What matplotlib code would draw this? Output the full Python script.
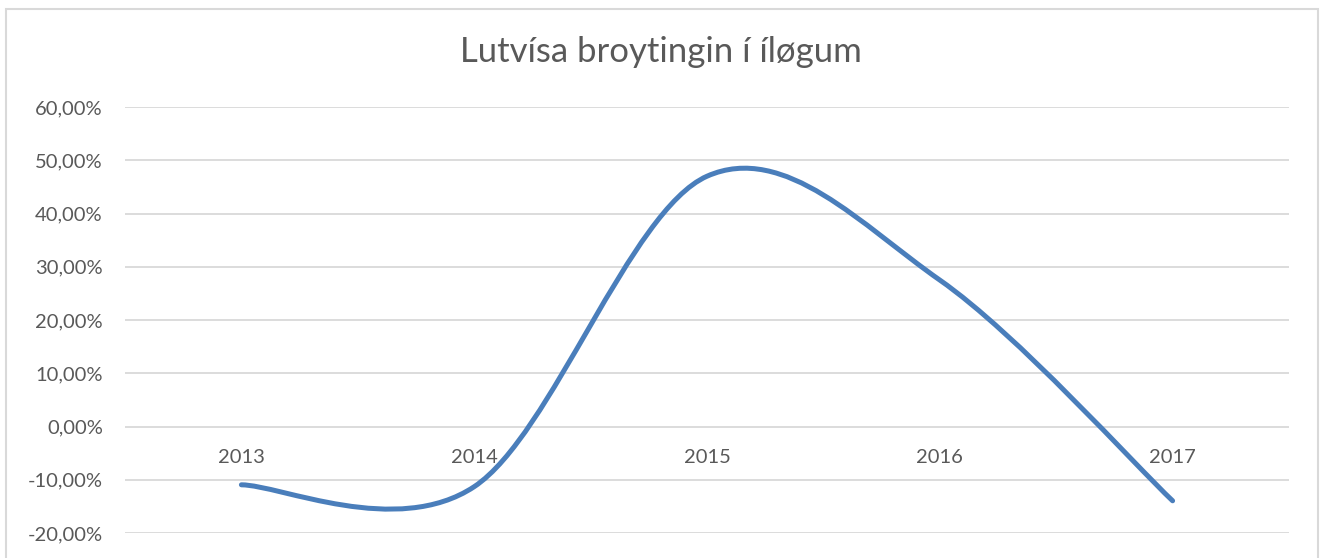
import numpy as np
import matplotlib.pyplot as plt
from matplotlib.path import Path
from matplotlib.patches import PathPatch, Rectangle

# Gögn
years  = ['2013', '2014', '2015', '2016', '2017']
change = [-10.95, -11.3, 47.0, 27.5, -13.95]   # %
yticks = [-20, -10, 0, 10, 20, 30, 40, 50, 60]

plt.rcParams['font.family'] = ['Lato', 'DejaVu Sans']

fig = plt.figure(figsize=(13.21, 5.58), dpi=100)
ax  = fig.add_axes([125/1321, 1 - 533/558, (1289-125)/1321, (533-107)/558])

# ramma um alla myndina
fig.patches.append(Rectangle((6/1321, -0.05), (1318-6)/1321, 1.05 - 9/558,
                             transform=fig.transFigure, fill=False,
                             edgecolor='#d9d9d9', linewidth=1.5))

# Excel-líkur sléttur ferill (Catmull-Rom -> Bezier)
x = np.arange(len(change), dtype=float)
y = np.array(change, dtype=float)
verts = [(x[0], y[0])]
codes = [Path.MOVETO]
for i in range(len(x) - 1):
    p0 = i - 1 if i > 0 else i
    p3 = i + 2 if i + 2 < len(x) else i + 1
    c1 = (x[i] + (x[i+1] - x[p0]) / 6, y[i] + (y[i+1] - y[p0]) / 6)
    c2 = (x[i+1] - (x[p3] - x[i]) / 6, y[i+1] - (y[p3] - y[i]) / 6)
    verts += [c1, c2, (x[i+1], y[i+1])]
    codes += [Path.CURVE4] * 3
ax.add_patch(PathPatch(Path(verts, codes), facecolor='none', edgecolor='#4a7ebb',
                       linewidth=3.6, capstyle='round', joinstyle='round', zorder=3))

ax.set_xlim(-0.5, len(years) - 0.5)
ax.set_ylim(-20, 60)
ax.set_yticks(yticks)
ax.set_yticklabels([f'{v:.2f}%'.replace('.', ',') for v in yticks],
                   fontsize=14.5, color='#595959')
ax.tick_params(axis='y', length=0, pad=16)
ax.set_xticks([])
ax.yaxis.grid(True, color='#d9d9d9', linewidth=1.3)
ax.set_axisbelow(True)
for s in ax.spines.values():
    s.set_visible(False)

for i, lab in enumerate(years):
    ax.annotate(lab, (i, 0), xytext=(0, -22), textcoords='offset points',
                ha='center', va='center', fontsize=14.5, color='#595959')

fig.text(661/1321, 1 - 52/558, 'Lutvísa broytingin í íløgum', ha='center', va='center',
         fontsize=25, color='#595959')

plt.savefig('out.png', dpi=100)
